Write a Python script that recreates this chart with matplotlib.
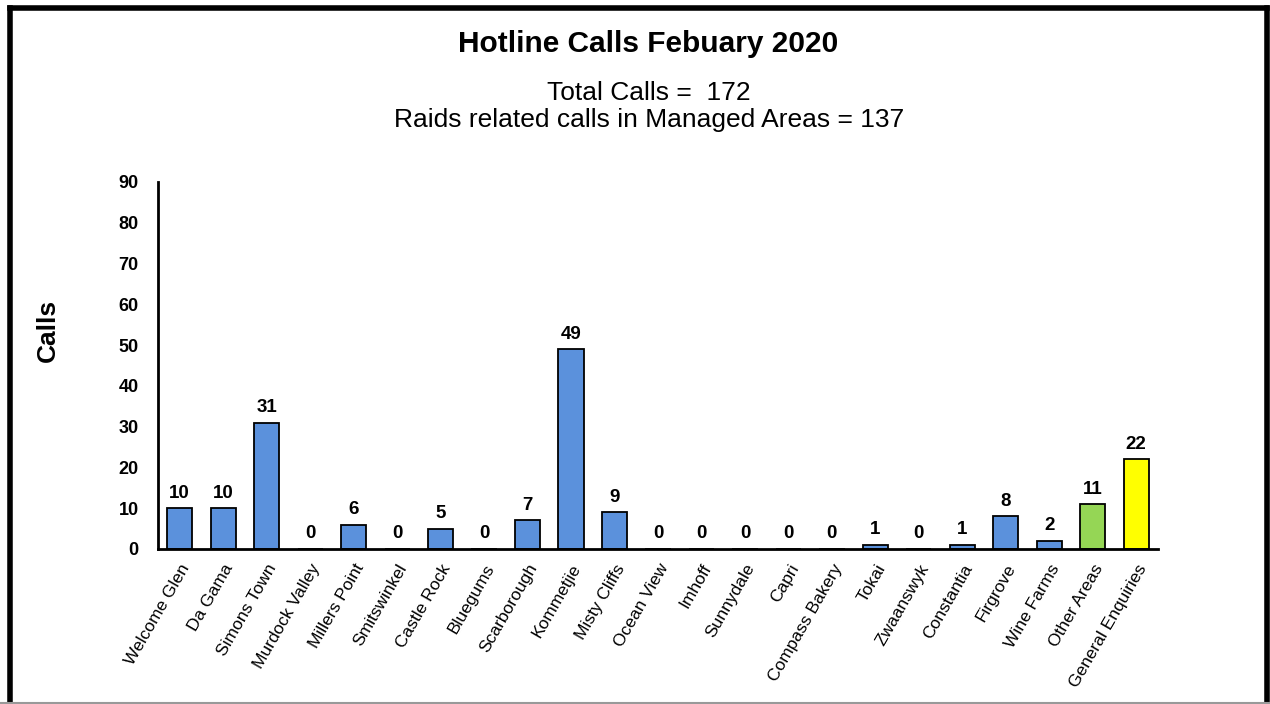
import matplotlib
matplotlib.use("Agg")
import matplotlib.pyplot as plt
from matplotlib.lines import Line2D

plt.rcParams['font.family'] = ['Liberation Sans', 'DejaVu Sans']

# data
areas = ["Welcome Glen", "Da Gama", "Simons Town", "Murdock Valley", "Millers Point",
         "Smitswinkel", "Castle Rock", "Bluegums", "Scarborough", "Kommetjie",
         "Misty Cliffs", "Ocean View", "Imhoff", "Sunnydale", "Capri",
         "Compass Bakery", "Tokai", "Zwaanswyk", "Constantia", "Firgrove",
         "Wine Farms", "Other Areas", "General Enquiries"]
calls = [10, 10, 31, 0, 6, 0, 5, 0, 7, 49, 9, 0, 0, 0, 0, 0, 1, 0, 1, 8, 2, 11, 22]

blue = '#5B91DC'
colors = [blue] * (len(areas) - 2) + ['#95D655', '#FFFF00']

fig = plt.figure(figsize=(12.7, 7.04), dpi=100, facecolor='white')
ax = fig.add_axes([0.1244, 0.2202, 0.7874, 0.5213])

x = list(range(len(areas)))
bars = ax.bar(x, calls, width=0.58, color=colors, edgecolor='black', linewidth=1.3)

for xi, v in zip(x, calls):
    ax.text(xi, v + 1.6, str(v), ha='center', va='bottom', fontsize=13.5, fontweight='bold')

ax.set_xlim(-0.5, len(areas) - 0.5)
ax.set_ylim(0, 90)
ax.set_yticks(range(0, 91, 10))
ax.set_xticks(x)
ax.set_xticklabels(areas, rotation=60, ha='right', rotation_mode='anchor', fontsize=12.5)
for lab in ax.get_yticklabels():
    lab.set_fontweight('bold')
    lab.set_fontsize(13)
ax.tick_params(axis='y', length=0, pad=14)
ax.tick_params(axis='x', length=0, pad=9)
ax.spines['top'].set_visible(False)
ax.spines['right'].set_visible(False)
ax.spines['left'].set_linewidth(2)
ax.spines['bottom'].set_linewidth(2)

fig.text(0.038, 0.53, "Calls", rotation=90, ha='center', va='center',
         fontsize=19, fontweight='bold')

fig.text(0.51, 0.938, "Hotline Calls Febuary 2020", ha='center', va='center',
         fontsize=21.5, fontweight='bold')
fig.text(0.511, 0.868, "Total Calls =  172", ha='center', va='center', fontsize=19)
fig.text(0.511, 0.829, "Raids related calls in Managed Areas = 137", ha='center',
         va='center', fontsize=19)

# frame round the picture (top, left, right)
fig.add_artist(Line2D([0.0078, 0.9976], [0.989, 0.989], transform=fig.transFigure,
                      color='black', linewidth=4))
fig.add_artist(Line2D([0.0078, 0.0078], [0.0, 0.989], transform=fig.transFigure,
                      color='black', linewidth=4))
fig.add_artist(Line2D([0.9976, 0.9976], [0.0, 0.989], transform=fig.transFigure,
                      color='black', linewidth=4))
fig.add_artist(Line2D([0.0, 1.0], [0.002, 0.002], transform=fig.transFigure,
                      color='#999999', linewidth=1.5))

fig.savefig("out.png", dpi=100, facecolor='white')
